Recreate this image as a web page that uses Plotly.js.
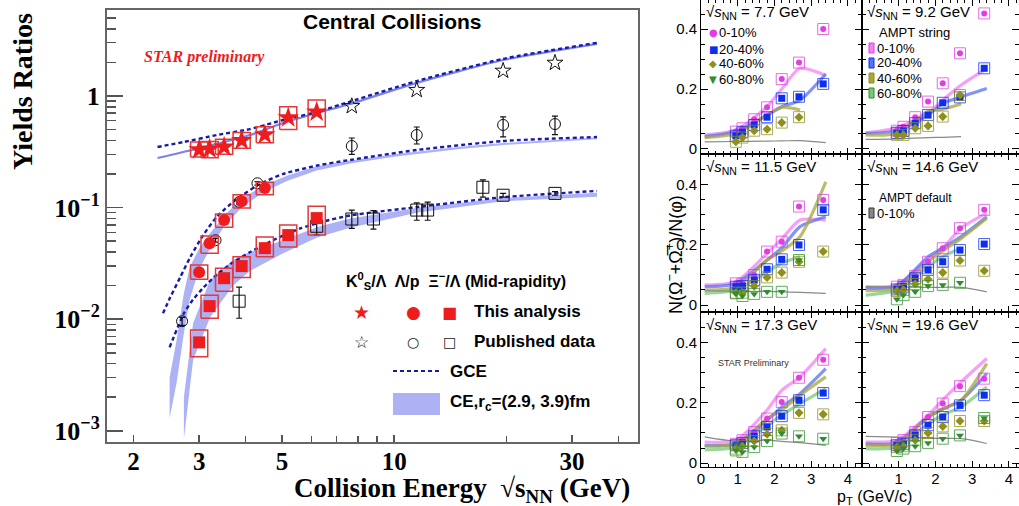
<!DOCTYPE html>
<html><head><meta charset="utf-8">
<script src="https://cdn.plot.ly/plotly-3.0.1.min.js"></script>
<style>html,body{margin:0;padding:0;background:#fff}#chart{width:1019px;height:506px}</style>
</head><body><div id="chart"></div>
<script>
// ================= LEFT PANEL DATA (yield ratios vs collision energy) =================
const E_this = [3.0, 3.2, 3.5, 3.9, 4.5, 5.2, 6.2];
const K0sL_this = [0.33, 0.335, 0.35, 0.40, 0.45, 0.64, 0.72];
const K0sL_sysLo = [0.284, 0.28, 0.30, 0.34, 0.38, 0.50, 0.53];
const K0sL_sysHi = [0.387, 0.39, 0.41, 0.47, 0.53, 0.80, 0.92];
const E_Lp_this = [3.0, 3.2, 3.5, 3.9, 4.5];
const Lp_this = [0.0264, 0.048, 0.0773, 0.114, 0.150];
const Lp_sysLo = [0.0228, 0.039, 0.0667, 0.099, 0.13];
const Lp_sysHi = [0.0306, 0.0556, 0.0874, 0.13, 0.169];
const Xi_this = [0.0062, 0.0131, 0.0233, 0.0299, 0.0433, 0.0567, 0.0805];
const Xi_sysLo = [0.0046, 0.0102, 0.0178, 0.0237, 0.0362, 0.0443, 0.0567];
const Xi_sysHi = [0.0080, 0.0164, 0.0286, 0.0362, 0.0544, 0.0697, 0.103];

const E_K_pub = [7.7, 11.5, 19.6, 27];
const K0sL_pub = [0.81, 1.13, 1.68, 1.98];
const E_Lp_pub = [2.7, 3.32, 3.84, 4.3, 7.7, 11.5, 19.6, 27];
const Lp_pub = [0.0096, 0.051, 0.112, 0.165, 0.356, 0.447, 0.55, 0.56];
const Lp_pub_errHi = [0.0008, 0.002, 0.004, 0.006, 0.064, 0.08, 0.10, 0.10];
const Lp_pub_errLo = [0.0008, 0.002, 0.004, 0.006, 0.056, 0.076, 0.12, 0.11];
const E_Xi_pub = [3.84, 6.2, 7.7, 8.8, 11.5, 12.3, 17.3, 19.6, 27];
const Xi_pub = [0.0145, 0.068, 0.079, 0.079, 0.095, 0.095, 0.152, 0.129, 0.134];
const Xi_pub_errHi = [0.0049, 0.006, 0.016, 0.015, 0.015, 0.017, 0.025, 0.005, 0.005];
const Xi_pub_errLo = [0.0043, 0.011, 0.014, 0.015, 0.018, 0.018, 0.028, 0.005, 0.005];

// model curves
const E_GCE_K = [2.32, 2.72, 3.35, 4.11, 5.04, 6.22, 7.17, 11.5, 19.6, 35];
const GCE_K = [0.349, 0.386, 0.447, 0.505, 0.609, 0.719, 0.835, 1.36, 2.15, 2.99];
const E_CE_K = [2.32, 3.02, 4.11, 5.04, 6.22, 7.62, 11.5, 19.6, 35];
const CE_K = [0.278, 0.342, 0.447, 0.573, 0.704, 0.848, 1.31, 2.10, 2.93];
const E_GCE_Lp = [2.40, 2.51, 2.67, 2.84, 3.08, 3.35, 3.79, 4.37, 5.04, 6.22, 7.62, 11.5, 19.6, 35];
const GCE_Lp = [0.0113, 0.0157, 0.0238, 0.036, 0.057, 0.0830, 0.120, 0.163, 0.200, 0.238, 0.267, 0.328, 0.395, 0.429];
const E_CE_Lp = [2.50, 2.61, 2.73, 2.83, 3.0, 3.2, 3.5, 3.9, 4.5, 5.2, 6.2, 7.7, 10, 15, 20, 35];
const CE_Lp_hi = [0.0030, 0.0065, 0.0171, 0.0292, 0.043, 0.058, 0.085, 0.120, 0.160, 0.195, 0.235, 0.265, 0.300, 0.350, 0.380, 0.425];
const CE_Lp_lo = [0.0013, 0.0027, 0.0075, 0.0150, 0.028, 0.042, 0.068, 0.100, 0.140, 0.175, 0.215, 0.250, 0.285, 0.335, 0.365, 0.410];
const E_GCE_Xi = [2.50, 2.73, 2.89, 3.08, 3.35, 3.64, 4.11, 4.85, 5.60, 6.46, 7.62, 11.5, 19.6, 35];
const GCE_Xi = [0.0056, 0.0113, 0.0150, 0.0192, 0.0252, 0.0312, 0.040, 0.0530, 0.0650, 0.0750, 0.085, 0.101, 0.124, 0.141];
const E_CE_Xi = [2.73, 2.89, 3.21, 3.70, 4.1, 5.04, 6.22, 7.62, 11.5, 19.6, 35];
const CE_Xi_hi = [0.0020, 0.0092, 0.0224, 0.034, 0.040, 0.051, 0.067, 0.080, 0.099, 0.122, 0.136];
const CE_Xi_lo = [0.00085, 0.0043, 0.0104, 0.020, 0.027, 0.039, 0.054, 0.066, 0.090, 0.114, 0.125];

// ================= RIGHT PANELS DATA (Omega/phi vs pT) =================
const energies = ["7.7", "9.2", "11.5", "14.6", "17.3", "19.6"];
const centLabels = ["0-10%", "20-40%", "40-60%", "60-80%"];
const pT = [0.95, 1.13, 1.45, 1.8, 2.2, 2.67, 3.33];
const pA = [0.1, 0.95, 1.8, 2.2, 2.7, 3.4];
// measured ratios: [0-10%, 20-40%, 40-60%, 60-80%]
const data_7p7 = [[0.058,0.069,0.099,0.139,0.233,0.288,0.40],[0.044,0.056,0.08,0.106,0.169,0.174,0.217],[0.024,0.038,0.061,0.066,0.088,0.106,null],[null,null,null,null,null,null,null]];
const data_9p2 = [[0.061,0.074,0.106,0.158,0.219,0.319,0.452],[0.054,0.06,0.086,0.113,0.154,0.172,0.269],[0.047,0.047,0.069,0.077,0.108,0.18,null],[null,null,null,null,null,null,null]];
const data_11p5 = [[0.072,0.072,0.1,0.178,0.211,0.328,0.35],[0.061,0.063,0.083,0.119,0.152,0.2,0.317],[0.041,0.041,0.063,0.092,0.108,0.144,0.178],[0.039,0.03,0.037,0.044,0.044,0.15,null]];
const data_14p6 = [[0.061,0.067,0.097,0.144,0.189,0.256,0.317],[0.052,0.061,0.089,0.117,0.144,0.183,0.203],[0.047,0.05,0.07,0.086,0.108,0.148,0.114],[0.019,0.033,0.044,0.063,0.067,0.074,null]];
const data_17p3 = [[0.064,0.076,0.103,0.148,0.203,0.284,0.344],[0.059,0.067,0.089,0.12,0.156,0.209,0.233],[0.048,0.056,0.073,0.096,0.109,0.167,0.162],[0.042,0.037,0.053,0.073,0.098,0.089,0.081]];
const data_19p6 = [[0.067,0.076,0.103,0.153,0.198,0.256,0.281],[0.059,0.064,0.092,0.126,0.153,0.192,0.226],[0.053,0.056,0.076,0.1,0.122,0.14,0.14],[0.04,0.048,0.056,0.067,0.081,0.092,0.15]];
// AMPT string (per centrality) and AMPT default 0-10% (gray)
const ampt_7p7 = [[0.047,0.063,0.141,0.20,0.269,0.245],[0.041,0.058,0.113,0.141,0.163,0.25],[0.038,0.052,0.113,0.139,0.13,null],[null,null,null,null,null,null]];
const ampt_9p2 = [[0.054,0.071,0.119,0.163,0.213,0.269],[0.052,0.061,0.113,0.152,0.174,0.202],[0.047,0.052,0.125,0.133,0.15,null],[null,null,null,null,null,null]];
const ampt_11p5 = [[0.067,0.078,0.172,0.22,0.283,0.283],[0.061,0.072,0.15,0.19,0.261,0.294],[0.05,0.059,0.15,0.18,0.228,0.41],[0.039,0.05,0.111,0.14,0.161,null]];
const ampt_14p6 = [[0.061,0.067,0.15,0.189,0.256,0.306],[0.056,0.063,0.161,0.19,0.228,0.294],[0.048,0.056,0.144,0.18,0.222,0.289],[0.033,0.05,0.128,0.161,0.189,null]];
const ampt_17p3 = [[0.07,0.076,0.176,0.242,0.287,0.381],[0.059,0.064,0.142,0.187,0.231,0.314],[0.056,0.064,0.148,0.176,0.226,0.287],[0.044,0.053,0.126,0.16,0.198,0.248]];
const ampt_19p6 = [[0.07,0.076,0.159,0.21,0.27,0.348],[0.064,0.067,0.153,0.18,0.209,0.298],[0.059,0.064,0.153,0.18,0.209,0.331],[0.048,0.053,0.131,0.16,0.187,0.253]];
const amptDef_7p7 = [0.024,0.025,0.026,0.027,0.028,0.021];
const amptDef_9p2 = [0.032,0.034,0.038,0.039,0.041,null];
const amptDef_11p5 = [0.047,0.046,0.045,0.044,0.042,0.039];
const amptDef_14p6 = [0.061,0.06,0.059,0.059,0.059,0.044];
const amptDef_17p3 = [0.087,0.073,0.076,0.072,0.068,0.059];
const amptDef_19p6 = [0.089,0.086,0.083,0.082,0.081,0.065];

const panelData = [data_7p7, data_9p2, data_11p5, data_14p6, data_17p3, data_19p6];
const panelAmpt = [ampt_7p7, ampt_9p2, ampt_11p5, ampt_14p6, ampt_17p3, ampt_19p6];
const panelDef = [amptDef_7p7, amptDef_9p2, amptDef_11p5, amptDef_14p6, amptDef_17p3, amptDef_19p6];

// ================= STYLE =================
const W = 1019, H = 506;
const px = x => x / W, py = y => 1 - y / H;
const RED = '#ee1c1c', NAVY = '#1a1aa8', BAND = 'rgba(140,148,240,0.72)';
const markCol = ['#e23ce2', '#0b2ef0', '#8f8f1c', '#2f8f2f'];
const amptCol = ['#f282f2', '#5872f0', '#a6a640', '#78c878'];
const markSym = ['circle', 'square', 'diamond', 'triangle-down'];
const serif = 'Liberation Serif, Times New Roman, serif';
const sans = 'Liberation Sans, Arial, sans-serif';

const traces = [];
function band(E, hi, lo) {
  return {x: E.concat(E.slice().reverse()), y: hi.concat(lo.slice().reverse()), type: 'scatter', mode: 'lines',
    fill: 'toself', fillcolor: BAND, line: {width: 0}, hoverinfo: 'skip', xaxis: 'x', yaxis: 'y', showlegend: false};
}
function dashed(E, v) {
  return {x: E, y: v, type: 'scatter', mode: 'lines', line: {color: NAVY, width: 2.4, dash: '4px,3px', shape: 'spline', smoothing: 0.6},
    xaxis: 'x', yaxis: 'y', showlegend: false};
}
function boxes(E, lo, hi) {
  const w = Math.pow(10, 0.023), xs = [], ys = [];
  for (let i = 0; i < E.length; i++) {
    xs.push(E[i] / w, E[i] * w, E[i] * w, E[i] / w, E[i] / w, null);
    ys.push(lo[i], lo[i], hi[i], hi[i], lo[i], null);
  }
  return {x: xs, y: ys, type: 'scatter', mode: 'lines', line: {color: '#e23a3a', width: 1.5}, xaxis: 'x', yaxis: 'y', showlegend: false};
}
function pub(E, v, sym, size, eh, el) {
  const t = {x: E, y: v, type: 'scatter', mode: 'markers', marker: {symbol: sym, size: size, color: '#111', line: {color: '#111', width: 1}},
    xaxis: 'x', yaxis: 'y', showlegend: false};
  if (eh) t.error_y = {type: 'data', array: eh, arrayminus: el, color: '#111', thickness: 1.2, width: 3};
  return t;
}
traces.push(band(E_CE_Lp, CE_Lp_hi, CE_Lp_lo));
traces.push(band(E_CE_Xi, CE_Xi_hi, CE_Xi_lo));
traces.push({x: E_CE_K, y: CE_K, type: 'scatter', mode: 'lines', line: {color: '#7a82ee', width: 2.2, shape: 'spline', smoothing: 0.6}, xaxis: 'x', yaxis: 'y', showlegend: false});
traces.push(dashed(E_GCE_K, GCE_K));
traces.push(dashed(E_GCE_Lp, GCE_Lp));
traces.push(dashed(E_GCE_Xi, GCE_Xi));
traces.push(pub(E_Lp_pub, Lp_pub, 'circle-open', 11, Lp_pub_errHi, Lp_pub_errLo));
traces.push(pub(E_Xi_pub, Xi_pub, 'square-open', 12, Xi_pub_errHi, Xi_pub_errLo));
traces.push(pub(E_K_pub, K0sL_pub, 'star-open', 12));
traces.push(boxes(E_this, K0sL_sysLo, K0sL_sysHi));
traces.push(boxes(E_Lp_this, Lp_sysLo, Lp_sysHi));
traces.push(boxes(E_this, Xi_sysLo, Xi_sysHi));
traces.push({x: E_this, y: K0sL_this, type: 'scatter', mode: 'markers', marker: {symbol: 'star', size: 16, color: RED}, xaxis: 'x', yaxis: 'y', showlegend: false});
traces.push({x: E_Lp_this, y: Lp_this, type: 'scatter', mode: 'markers', marker: {symbol: 'circle', size: 12, color: RED}, xaxis: 'x', yaxis: 'y', showlegend: false});
traces.push({x: E_this, y: Xi_this, type: 'scatter', mode: 'markers', marker: {symbol: 'square', size: 12, color: RED}, xaxis: 'x', yaxis: 'y', showlegend: false});

// right panels
panelData.forEach((pd, p) => {
  const xa = 'x' + (p + 2), ya = 'y' + (p + 2);
  panelAmpt[p].forEach((a, c) => {
    traces.push({x: pA, y: a, type: 'scatter', mode: 'lines', line: {color: amptCol[c], width: 3.2, shape: 'spline', smoothing: 0.7}, opacity: 0.75,
      xaxis: xa, yaxis: ya, showlegend: false, connectgaps: false});
  });
  traces.push({x: pA, y: panelDef[p], type: 'scatter', mode: 'lines', line: {color: '#8a8a8a', width: 1.2, shape: 'spline'},
    xaxis: xa, yaxis: ya, showlegend: false});
  pd.forEach((d, c) => {
    traces.push({x: pT, y: d, type: 'scatter', mode: 'markers', marker: {symbol: 'square-open', size: 11, color: markCol[c], line: {width: 1, color: markCol[c]}},
      opacity: 0.75, xaxis: xa, yaxis: ya, showlegend: false});
    traces.push({x: pT, y: d, type: 'scatter', mode: 'markers', marker: {symbol: markSym[c], size: c === 0 ? 6 : 7, color: markCol[c]},
      xaxis: xa, yaxis: ya, showlegend: false});
  });
});

// ================= LAYOUT =================
const layout = {
  width: W, height: H, margin: {l: 0, r: 0, t: 0, b: 0}, paper_bgcolor: '#fff', plot_bgcolor: 'rgba(0,0,0,0)', showlegend: false,
  font: {family: sans, color: '#000'},
  xaxis: {type: 'log', range: [0.23, 1.654], domain: [px(107), px(638)], anchor: 'y',
    showline: true, linecolor: '#666', linewidth: 2, mirror: true, showgrid: false, zeroline: false,
    ticks: 'inside', ticklen: 7, tickwidth: 1.5, tickcolor: '#555', ticklabelstandoff: -4,
    tickmode: 'array', tickvals: [2, 3, 5, 10, 30], ticktext: ['2', '3', '5', '10', '30'],
    tickfont: {family: serif, size: 25, color: '#000', weight: 'bold'},
    minor: {tickmode: 'array', tickvals: [4, 6, 7, 8, 9, 20, 40], ticks: 'inside', ticklen: 6, tickwidth: 1.5, tickcolor: '#555', showgrid: false}},
  yaxis: {type: 'log', range: [-3.1, 0.77], domain: [py(442), py(10)], anchor: 'x',
    showline: true, linecolor: '#666', linewidth: 2, mirror: true, showgrid: false, zeroline: false,
    ticks: 'inside', ticklen: 16, tickwidth: 1.5, tickcolor: '#555',
    tickmode: 'array', tickvals: [0.001, 0.01, 0.1, 1], ticktext: ['10<sup>\u22123</sup>', '10<sup>\u22122</sup>', '10<sup>\u22121</sup>', '1'],
    tickfont: {family: serif, size: 26, color: '#000', weight: 'bold'},
    minor: {tickmode: 'array', tickvals: [0.002,0.003,0.004,0.005,0.006,0.007,0.008,0.009,0.02,0.03,0.04,0.05,0.06,0.07,0.08,0.09,0.2,0.3,0.4,0.5,0.6,0.7,0.8,0.9,2,3,4,5],
      ticks: 'inside', ticklen: 9, tickwidth: 1.5, tickcolor: '#555', showgrid: false}},
  annotations: [], shapes: []
};

const colX = [[px(701), px(862)], [px(862), 1]];
const colR = [[0, 4.387], [0, 4.278]];
const rowY = [[py(154), 1], [py(312), py(154)], [py(467), py(312)]];
const rowR = [[-0.0167, 0.4967], [-0.0233, 0.503], [-0.0133, 0.503]];
for (let p = 0; p < 6; p++) {
  const r = Math.floor(p / 2), c = p % 2, n = p + 2;
  layout['xaxis' + n] = {domain: colX[c], range: colR[c], anchor: 'y' + n, showline: true, linecolor: '#000', linewidth: 1, mirror: 'allticks',
    ticks: 'inside', ticklen: 6, tickcolor: '#000', showgrid: false, zeroline: false, ticklabelstandoff: -2,
    tickmode: 'array', tickvals: c === 0 ? [0, 1, 2, 3, 4] : [1, 2, 3, 4], showticklabels: r === 2,
    tickfont: {family: sans, size: 15, color: '#000'},
    minor: {dtick: 0.2, ticks: 'inside', ticklen: 3, tickcolor: '#000', showgrid: false}};
  layout['yaxis' + n] = {domain: rowY[r], range: rowR[r], anchor: 'x' + n, showline: true, linecolor: '#000', linewidth: 1, mirror: 'allticks',
    ticks: 'inside', ticklen: 7, tickcolor: '#000', showgrid: false, zeroline: false,
    tickmode: 'array', tickvals: [0, 0.2, 0.4], ticktext: ['0', '0.2', '0.4'], showticklabels: c === 0,
    tickfont: {family: sans, size: 15, color: '#000'},
    minor: {dtick: 0.05, ticks: 'inside', ticklen: 4, tickcolor: '#000', showgrid: false}};
  layout.annotations.push({xref: 'paper', yref: 'paper', x: px(c === 0 ? 704 : 865), y: py([13, 167, 325][r]), xanchor: 'left', yanchor: 'middle',
    text: '\u221A<i>s</i><sub>NN</sub> = ' + energies[p] + ' GeV', showarrow: false, font: {family: sans, size: 15, color: '#000'}});
}

const A = layout.annotations, S = layout.shapes;
function txt(x, y, text, font, extra) { A.push(Object.assign({xref: 'paper', yref: 'paper', x: px(x), y: py(y), text: text, showarrow: false, xanchor: 'left', yanchor: 'middle', font: font}, extra || {})); }
const boldSans = {family: sans, size: 17, color: '#000', weight: 'bold'};

// left panel titles
txt(392, 22, 'Central Collisions', {family: sans, size: 21, color: '#000', weight: 'bold'}, {xanchor: 'center'});
txt(142, 57, '<i>STAR preliminary</i>', {family: serif, size: 16, color: RED, weight: 'bold'});
txt(22, 92, 'Yields Ratios', {family: serif, size: 28, color: '#000', weight: 'bold'}, {xanchor: 'center', textangle: -90});
txt(462, 490, 'Collision Energy  \u221As<sub>NN</sub> (GeV)', {family: serif, size: 27, color: '#000', weight: 'bold'}, {xanchor: 'center'});
// left panel legend
txt(344, 281, 'K<sup>0</sup><sub>S</sub>/\u039B  \u039B/p  \u039E<sup>\u2212</sup>/\u039B (Mid-rapidity)', {family: sans, size: 16, color: '#000', weight: 'bold'});
txt(361, 312, '\u2605', {family: 'DejaVu Sans', size: 19, color: RED}, {xanchor: 'center'});
txt(413, 312, '\u25CF', {family: 'DejaVu Sans', size: 17, color: RED}, {xanchor: 'center'});
txt(449, 312, '\u25A0', {family: 'DejaVu Sans', size: 16, color: RED}, {xanchor: 'center'});
txt(472, 311, 'This analysis', boldSans);
txt(361, 342, '\u2606', {family: 'DejaVu Sans', size: 17, color: '#222'}, {xanchor: 'center'});
txt(413, 342, '\u25CB', {family: 'DejaVu Sans', size: 14, color: '#222'}, {xanchor: 'center'});
txt(449, 342, '\u25A1', {family: 'DejaVu Sans', size: 14, color: '#222'}, {xanchor: 'center'});
txt(472, 341, 'Published data', boldSans);
S.push({type: 'line', xref: 'paper', yref: 'paper', x0: px(393), x1: px(440), y0: py(371), y1: py(371), line: {color: NAVY, width: 2, dash: '4px,3px'}});
txt(448, 371, 'GCE', boldSans);
S.push({type: 'rect', xref: 'paper', yref: 'paper', x0: px(393), x1: px(440), y0: py(415), y1: py(393), fillcolor: BAND, line: {width: 0}});
txt(448, 403, 'CE,r<sub>c</sub>=(2.9, 3.9)fm', boldSans);

// right panel titles and legends
txt(674, 255, 'N(\u03A9<sup>\u2212</sup>+\u03A9\u0305<sup>+</sup>)/N(\u03C6)', {family: sans, size: 18, color: '#000'}, {xanchor: 'center', textangle: -90});
txt(874, 497, 'p<sub>T</sub> (GeV/c)', {family: sans, size: 16, color: '#000'}, {xanchor: 'center'});
txt(716, 363, 'STAR Preliminary', {family: sans, size: 9, color: '#333'});
const legGlyph = ['\u25CF', '\u25A0', '\u25C6', '\u25BC'];
centLabels.forEach((lab, c) => {
  const y = [33, 49, 64, 80][c];
  txt(713, y, legGlyph[c], {family: 'DejaVu Sans', size: 10, color: markCol[c]}, {xanchor: 'center'});
  txt(717, y, lab, {family: sans, size: 13, color: '#000'});
  const y2 = [48, 63, 78, 93][c];
  S.push({type: 'rect', xref: 'paper', yref: 'paper', x0: px(869), x1: px(874), y0: py(y2 + 5), y1: py(y2 - 5), fillcolor: amptCol[c], line: {color: markCol[c], width: 1}});
  txt(875, y2, lab, {family: sans, size: 13, color: '#000'});
});
txt(877, 33, 'AMPT string', {family: sans, size: 13, color: '#000'});
txt(877, 198, 'AMPT default', {family: sans, size: 12, color: '#000'});
S.push({type: 'rect', xref: 'paper', yref: 'paper', x0: px(869), x1: px(874), y0: py(218), y1: py(208), fillcolor: '#888', line: {color: '#333', width: 1}});
txt(875, 213, '0-10%', {family: sans, size: 13, color: '#000'});

Plotly.newPlot('chart', traces, layout, {staticPlot: true, displayModeBar: false});
</script></body></html>
